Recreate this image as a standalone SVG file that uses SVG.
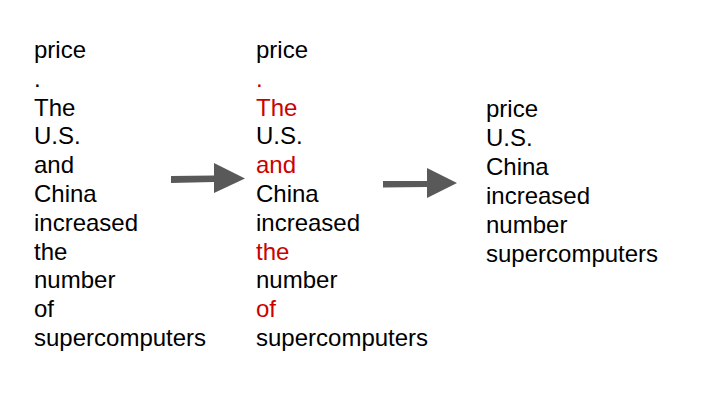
<svg xmlns="http://www.w3.org/2000/svg" width="720" height="405" viewBox="0 0 720 405">
<style>
text{font-family:"Liberation Sans",Arial,sans-serif;font-size:24px;fill:#000}
.r{fill:#cc0000}
.arrow{fill:#595959}
</style>
<rect width="720" height="405" fill="#fff"/>
<g id="col1">
<text x="34" y="58">price</text>
<text x="34" y="86.8">.</text>
<text x="34" y="115.6">The</text>
<text x="34" y="144.4">U.S.</text>
<text x="34" y="173.2">and</text>
<text x="34" y="202">China</text>
<text x="34" y="230.8">increased</text>
<text x="34" y="259.6">the</text>
<text x="34" y="288.4">number</text>
<text x="34" y="317.2">of</text>
<text x="34" y="346">supercomputers</text>
</g>
<g id="col2">
<text x="256" y="58">price</text>
<text x="256" y="86.8" class="r">.</text>
<text x="256" y="115.6" class="r">The</text>
<text x="256" y="144.4">U.S.</text>
<text x="256" y="173.2" class="r">and</text>
<text x="256" y="202">China</text>
<text x="256" y="230.8">increased</text>
<text x="256" y="259.6" class="r">the</text>
<text x="256" y="288.4">number</text>
<text x="256" y="317.2" class="r">of</text>
<text x="256" y="346">supercomputers</text>
</g>
<g id="col3">
<text x="486" y="117">price</text>
<text x="486" y="146">U.S.</text>
<text x="486" y="175">China</text>
<text x="486" y="204">increased</text>
<text x="486" y="233">number</text>
<text x="486" y="262">supercomputers</text>
</g>
<g id="connectors">
<polygon class="arrow" points="171,176 214,175.5 214,163 245,178.5 214,193 214,182 171,183"/>
<polygon class="arrow" points="383,181 427,181 427,168 457,183 427,198 427,187 383,187.5"/>
</g>
</svg>
